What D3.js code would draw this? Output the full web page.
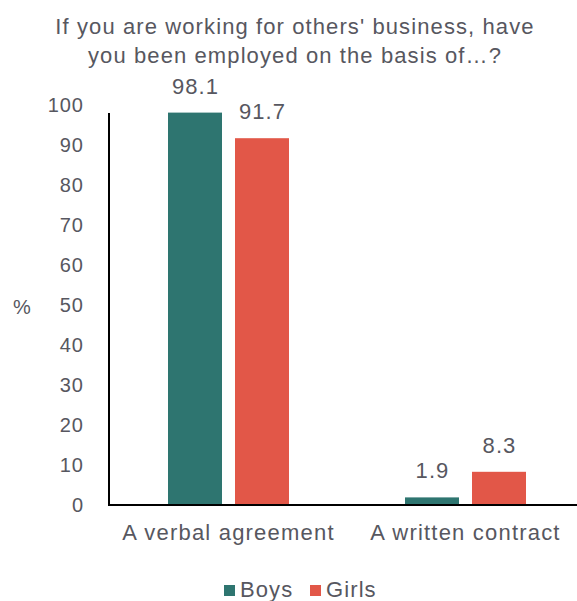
<!DOCTYPE html>
<html><head><meta charset="utf-8">
<script src="https://cdn.jsdelivr.net/npm/d3@7"></script>
<style>body{margin:0;background:#fff}text{font-family:"Liberation Sans",Arial,sans-serif;fill:#575760}</style>
</head><body>
<script>
const categories = ["A verbal agreement", "A written contract"];
const seriesNames = ["Boys", "Girls"];
const boys = [98.1, 1.9];
const girls = [91.7, 8.3];
const yTicks = [0,10,20,30,40,50,60,70,80,90,100];
const colors = ["#2E7570", "#E25748"];
const titleLines = ["If you are working for others' business, have", "you been employed on the basis of\u2026?"];

const W = 577, H = 601;
const FONT = '"Liberation Sans",Arial,sans-serif';
const TXT = "#575760";
const svg = d3.select("body").append("svg").attr("width", W).attr("height", H);

const x0 = d3.scaleBand().domain(categories).range([110, 584]);
const x1 = d3.scaleBand().domain(seriesNames).range([0, 121]).paddingInner(13/67);
const y = d3.scaleLinear().domain([0, 100]).range([505, 105]);

svg.selectAll("text.title").data(titleLines).join("text")
  .attr("x", 295).attr("y", (d,i) => 34 + i*29)
  .attr("text-anchor", "middle").style("font-size", "22px").style("letter-spacing", "1.1px").text(d => d);

const data = categories.map((c,i) => ({cat: c, vals: [boys[i], girls[i]]}));
const g = svg.selectAll("g.grp").data(data).join("g")
  .attr("transform", d => `translate(${x0(d.cat) + (x0.bandwidth()-121)/2},0)`);
g.selectAll("rect").data(d => d.vals.map((v,j) => ({v, s: seriesNames[j], j})))
  .join("rect")
  .attr("x", d => x1(d.s)).attr("width", x1.bandwidth())
  .attr("y", d => y(d.v)).attr("height", d => y(0) - y(d.v))
  .attr("fill", d => colors[d.j]);
g.selectAll("text.lab").data(d => d.vals.map((v,j) => ({v, s: seriesNames[j], j})))
  .join("text").attr("class","lab")
  .attr("x", d => x1(d.s) + x1.bandwidth()/2 + 0.5)
  .attr("y", d => y(d.v) - 19)
  .attr("text-anchor", "middle").style("font-size", "22px").style("letter-spacing", "1.1px")
  .text(d => d.v.toFixed(1));

// axes
const yAxis = svg.append("g").attr("transform", "translate(109,0)")
  .call(d3.axisLeft(y).tickValues(yTicks).tickSize(0).tickPadding(25));
yAxis.select(".domain").attr("stroke", "#000").attr("stroke-width", 2).attr("d", "M0,113V505");
yAxis.selectAll("text").style("font-size", "20px").style("letter-spacing", "1px").attr("fill", TXT).style("font-family", FONT);

const xAxis = svg.append("g").attr("transform", "translate(0,505)")
  .call(d3.axisBottom(x0).tickSize(0).tickPadding(19));
xAxis.select(".domain").attr("stroke", "#000").attr("stroke-width", 2).attr("d", "M108,0H584");
xAxis.selectAll("text").style("font-size", "22px").style("letter-spacing", "1.2px").attr("fill", TXT).style("font-family", FONT);

svg.append("text").attr("x", 22).attr("y", 314).attr("text-anchor","middle").style("font-size","20px").text("%");

// legend
const legX = [224, 310];
const lg = svg.selectAll("g.leg").data(seriesNames).join("g")
  .attr("transform", (d,i) => `translate(${legX[i]},585)`);
lg.append("rect").attr("width", 11).attr("height", 11).attr("fill", (d,i) => colors[i]);
lg.append("text").attr("x", 16).attr("y", 12).style("font-size", "22px").style("letter-spacing", "1.1px").text(d => d);
</script>
</body></html>
